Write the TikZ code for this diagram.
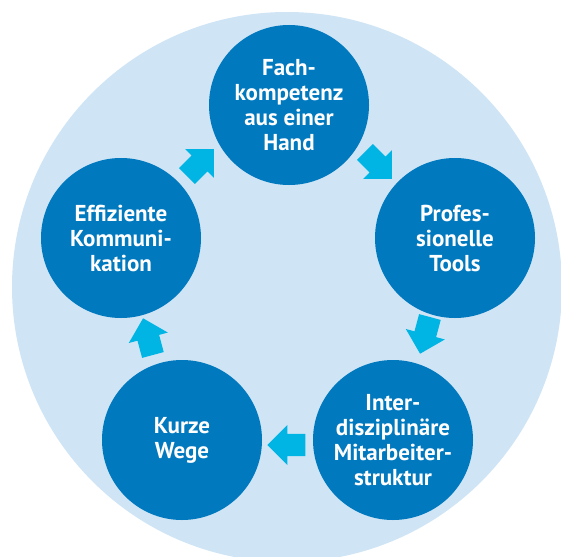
\documentclass[tikz,border=0pt]{standalone}
\usepackage{fontspec}
\setmainfont{PT Sans}
\usetikzlibrary{shapes.arrows}
\definecolor{ringblue}{RGB}{207,228,245}
\definecolor{stationblue}{RGB}{0,121,190}
\definecolor{flowcyan}{RGB}{0,181,228}
\begin{document}
\begin{tikzpicture}[x=1pt,y=1pt,
  station/.style={circle,fill=stationblue,minimum size=160pt,inner sep=0pt,
    text=white,align=center,font=\bfseries\fontsize{23}{25}\selectfont},
  flow/.style={single arrow,fill=flowcyan,minimum height=38pt,inner sep=11pt,
    single arrow head extend=9pt,single arrow tip angle=90,
    single arrow head indent=0pt,anchor=tip}]
  \clip (0,0) rectangle (561,-556);
  \fill[ringblue] (287,-287) circle (275);
  \node[station] (fach) at (289,-105) {Fach-\\kompetenz\\aus einer\\Hand};
  \node[station] (tools) at (455,-238) {Profes-\\sionelle\\Tools};
  \node[station] (inter) at (393,-440) {Inter-\\disziplinäre\\Mitarbeiter-\\struktur};
  \node[station] (wege) at (182,-440) {Kurze\\Wege};
  \node[station] (komm) at (121,-238) {Effiziente\\Kommuni-\\kation};
  \node[flow,rotate=45] (komm-fach) at (214,-149) {};
  \node[flow,rotate=-45] (fach-tools) at (392,-179) {};
  \node[flow,rotate=255] (tools-inter) at (420,-354) {};
  \node[flow,rotate=180] (inter-wege) at (267,-445) {};
  \node[flow,rotate=105] (wege-komm) at (143,-318) {};
\end{tikzpicture}
\end{document}
